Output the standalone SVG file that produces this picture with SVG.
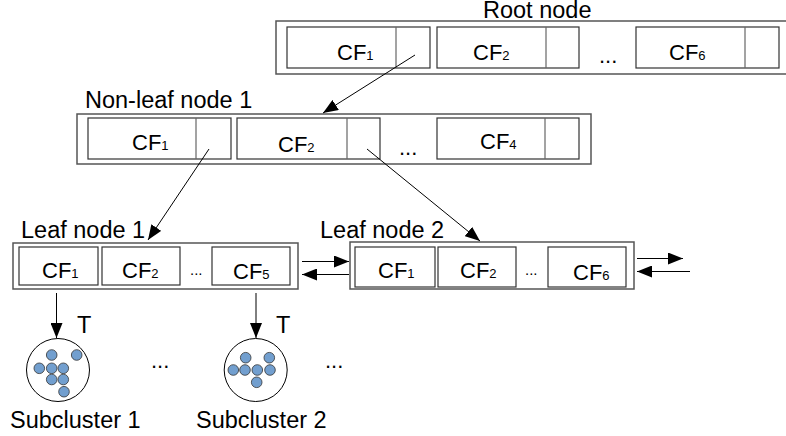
<svg xmlns="http://www.w3.org/2000/svg" width="786" height="436" viewBox="0 0 786 436">
<style>
text{font-family:"Liberation Sans",Arial,sans-serif;fill:#000}
.lbl{font-size:23.5px}
.cf{font-size:22px}
.sub{font-size:13px}
.dots{font-size:22px}
.sdots{font-size:15px}
.outer{fill:#fff;stroke:#555;stroke-width:1.5}
.cell{fill:#fff;stroke:#333;stroke-width:1.2}
.div{stroke:#666;stroke-width:1.2}
.conn{stroke:#000;stroke-width:1;fill:none}
.pt{fill:#729fcf;stroke:#333;stroke-width:0.8}
.circ{fill:#fff;stroke:#000;stroke-width:1}
</style>
<defs>
<marker id="ah" viewBox="0 0 15 12" refX="15" refY="6" markerWidth="15" markerHeight="12" markerUnits="userSpaceOnUse" orient="auto">
<path d="M0,0 L15,6 L0,12 Z" fill="#000"/>
</marker>
</defs>

<g id="root">
<text class="lbl" x="483" y="18">Root node</text>
<rect class="outer" x="276" y="21" width="520" height="53"/>
<rect class="cell" x="287" y="27" width="143" height="41"/><line class="div" x1="396" y1="27" x2="396" y2="68"/>
<rect class="cell" x="437" y="27" width="142" height="41"/><line class="div" x1="546" y1="27" x2="546" y2="68"/>
<rect class="cell" x="636" y="27" width="143" height="41"/><line class="div" x1="745" y1="27" x2="745" y2="68"/>
<text class="cf" x="337" y="60">CF<tspan class="sub">1</tspan></text>
<text class="cf" x="473" y="60">CF<tspan class="sub">2</tspan></text>
<text class="cf" x="669" y="60">CF<tspan class="sub">6</tspan></text>
<text class="dots" x="599" y="63">...</text>
</g>

<g id="nonleaf1">
<text class="lbl" x="85" y="108">Non-leaf node 1</text>
<rect class="outer" x="77" y="114" width="514" height="50"/>
<rect class="cell" x="88" y="118" width="143" height="41"/><line class="div" x1="196" y1="118" x2="196" y2="159"/>
<rect class="cell" x="237" y="118" width="143" height="41"/><line class="div" x1="347" y1="118" x2="347" y2="159"/>
<rect class="cell" x="437" y="118" width="142" height="41"/><line class="div" x1="545" y1="118" x2="545" y2="159"/>
<text class="cf" x="132" y="150">CF<tspan class="sub">1</tspan></text>
<text class="cf" x="278" y="152">CF<tspan class="sub">2</tspan></text>
<text class="cf" x="480" y="149">CF<tspan class="sub">4</tspan></text>
<text class="dots" x="399" y="155">...</text>
</g>

<g id="leaf1">
<text class="lbl" x="21" y="238">Leaf node 1</text>
<rect class="outer" x="13" y="243" width="285" height="46"/>
<rect class="cell" x="19" y="247" width="79" height="38"/>
<rect class="cell" x="102" y="247" width="78" height="38"/>
<rect class="cell" x="212" y="247" width="78" height="38"/>
<text class="cf" x="42" y="278">CF<tspan class="sub">1</tspan></text>
<text class="cf" x="122" y="278">CF<tspan class="sub">2</tspan></text>
<text class="cf" x="233" y="279">CF<tspan class="sub">5</tspan></text>
<text class="sdots" x="190" y="275">...</text>
</g>

<g id="leaf2">
<text class="lbl" x="320" y="238">Leaf node 2</text>
<rect class="outer" x="350" y="242" width="284" height="47"/>
<rect class="cell" x="355" y="247" width="80" height="40"/>
<rect class="cell" x="438" y="247" width="78" height="40"/>
<rect class="cell" x="548" y="247" width="78" height="40"/>
<text class="cf" x="378" y="278">CF<tspan class="sub">1</tspan></text>
<text class="cf" x="460" y="278">CF<tspan class="sub">2</tspan></text>
<text class="cf" x="573" y="280">CF<tspan class="sub">6</tspan></text>
<text class="sdots" x="525" y="275">...</text>
</g>

<g id="subcluster1">
<circle class="circ" cx="58" cy="370" r="31.5"/>
<circle class="pt" cx="51.7" cy="355" r="5.3"/>
<circle class="pt" cx="76.7" cy="355" r="5.3"/>
<circle class="pt" cx="39.3" cy="368.3" r="5.3"/>
<circle class="pt" cx="51.7" cy="368.3" r="5.3"/>
<circle class="pt" cx="63.3" cy="368.3" r="5.3"/>
<circle class="pt" cx="51.7" cy="379.5" r="5.3"/>
<circle class="pt" cx="63.3" cy="379.5" r="5.3"/>
<circle class="pt" cx="64" cy="391.7" r="5.3"/>
<text class="lbl" x="10" y="428">Subcluster 1</text>
</g>

<g id="subcluster2">
<circle class="circ" cx="255.7" cy="370" r="31.5"/>
<circle class="pt" cx="245.7" cy="357.7" r="5.3"/>
<circle class="pt" cx="269.3" cy="357.7" r="5.3"/>
<circle class="pt" cx="233.3" cy="370" r="5.3"/>
<circle class="pt" cx="245" cy="370" r="5.3"/>
<circle class="pt" cx="257.3" cy="370" r="5.3"/>
<circle class="pt" cx="270" cy="370" r="5.3"/>
<circle class="pt" cx="256.7" cy="382.3" r="5.3"/>
<text class="lbl" x="196" y="428">Subcluster 2</text>
</g>

<g id="ellipses">
<text class="dots" x="151" y="368">...</text>
<text class="dots" x="325" y="368">...</text>
</g>

<g id="connectors">
<line class="conn" x1="415" y1="55" x2="323" y2="113" marker-end="url(#ah)"/>
<line class="conn" x1="209" y1="149" x2="148" y2="240" marker-end="url(#ah)"/>
<line class="conn" x1="367" y1="149" x2="480" y2="241" marker-end="url(#ah)"/>
<line class="conn" x1="302" y1="261.5" x2="349" y2="261.5" marker-end="url(#ah)"/>
<line class="conn" x1="349" y1="274.5" x2="302" y2="274.5" marker-end="url(#ah)"/>
<line class="conn" x1="637" y1="258.5" x2="683" y2="258.5" marker-end="url(#ah)"/>
<line class="conn" x1="690" y1="271.5" x2="637" y2="271.5" marker-end="url(#ah)"/>
<line class="conn" x1="56.5" y1="293" x2="56.5" y2="338" marker-end="url(#ah)"/>
<line class="conn" x1="256" y1="293" x2="256" y2="338" marker-end="url(#ah)"/>
<text class="lbl" x="77" y="333">T</text>
<text class="lbl" x="276" y="333">T</text>
</g>
</svg>
